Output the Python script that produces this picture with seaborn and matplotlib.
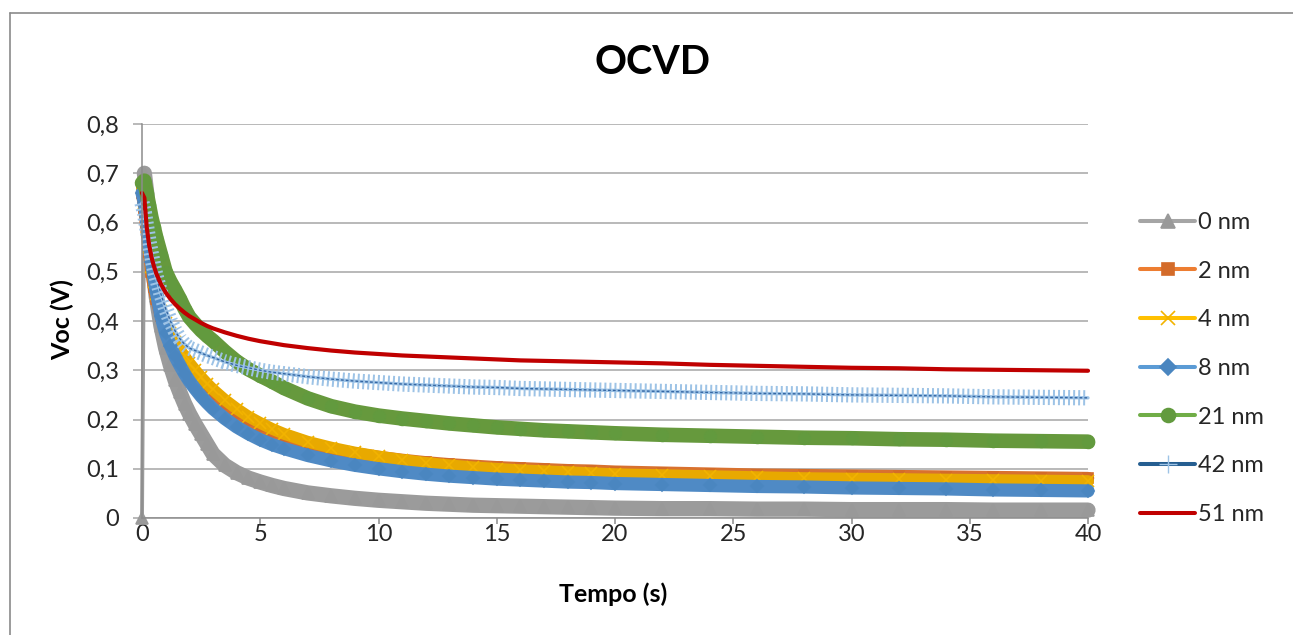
import numpy as np
import pandas as pd
import matplotlib
matplotlib.use("Agg")
import matplotlib.pyplot as plt
from matplotlib.lines import Line2D
import seaborn as sns

# Open-circuit voltage decay: time (s) and Voc (V) for each layer thickness
tempo = [0, 0.1, 0.2, 0.3, 0.4, 0.5, 0.6, 0.8,
         1.0, 1.2, 1.4, 1.6, 1.8, 2.0,
         2.25, 2.5, 2.75, 3.0,
         3.5, 4.0, 4.5, 5,
         5.5, 6,
         7, 8, 9, 10,
         11, 12, 13, 14, 15, 16, 17, 18, 19, 20,
         22, 24, 26, 28, 30,
         32, 34, 36, 38, 40]

voc_0nm = [0.0, 0.70, 0.66, 0.60, 0.54, 0.49, 0.45, 0.39,
           0.345, 0.31, 0.28, 0.255, 0.232, 0.212,
           0.19, 0.17, 0.15, 0.13,
           0.107, 0.092, 0.081, 0.073,
           0.066, 0.060,
           0.051, 0.045, 0.040, 0.036,
           0.033, 0.030, 0.028, 0.026, 0.025, 0.024, 0.023, 0.022, 0.021, 0.020,
           0.019, 0.019, 0.018, 0.018, 0.017,
           0.017, 0.017, 0.016, 0.016, 0.016]

voc_2nm = [0.66, 0.63, 0.58, 0.54, 0.50, 0.47, 0.445, 0.41,
           0.385, 0.365, 0.348, 0.333, 0.319, 0.306,
           0.291, 0.277, 0.264, 0.252,
           0.232, 0.214, 0.199, 0.186,
           0.175, 0.166,
           0.151, 0.140, 0.131, 0.124,
           0.118, 0.113, 0.109, 0.106, 0.103, 0.101, 0.099, 0.097, 0.096, 0.094,
           0.092, 0.090, 0.088, 0.087, 0.086,
           0.085, 0.084, 0.083, 0.082, 0.081]

voc_4nm = [0.67, 0.64, 0.59, 0.55, 0.51, 0.48, 0.455, 0.42,
           0.395, 0.375, 0.357, 0.342, 0.328, 0.315,
           0.300, 0.286, 0.273, 0.261,
           0.240, 0.222, 0.206, 0.193,
           0.181, 0.171,
           0.155, 0.143, 0.133, 0.125,
           0.118, 0.112, 0.107, 0.103, 0.100, 0.097, 0.095, 0.093, 0.091, 0.089,
           0.087, 0.085, 0.083, 0.081, 0.080,
           0.079, 0.078, 0.077, 0.076, 0.075]

voc_8nm = [0.66, 0.64, 0.60, 0.56, 0.52, 0.49, 0.46, 0.41,
           0.375, 0.35, 0.328, 0.31, 0.293, 0.278,
           0.262, 0.247, 0.234, 0.222,
           0.202, 0.185, 0.171, 0.159,
           0.149, 0.141,
           0.127, 0.116, 0.107, 0.100,
           0.094, 0.089, 0.085, 0.082, 0.079, 0.077, 0.075, 0.073, 0.072, 0.070,
           0.068, 0.066, 0.064, 0.063, 0.061,
           0.060, 0.059, 0.057, 0.056, 0.055]

voc_21nm = [0.68, 0.685, 0.66, 0.635, 0.61, 0.59, 0.57, 0.535,
            0.50, 0.48, 0.463, 0.445, 0.425, 0.408,
            0.394, 0.381, 0.37, 0.36,
            0.338, 0.318, 0.302, 0.289,
            0.277, 0.264,
            0.243, 0.227, 0.216, 0.208,
            0.202, 0.197, 0.192, 0.188, 0.184, 0.181, 0.178, 0.176, 0.174, 0.172,
            0.169, 0.167, 0.165, 0.163, 0.162,
            0.160, 0.159, 0.157, 0.156, 0.155]

voc_42nm = [0.64, 0.62, 0.59, 0.56, 0.535, 0.51, 0.49, 0.455,
            0.425, 0.40, 0.38, 0.364, 0.353, 0.345,
            0.34, 0.335, 0.33, 0.326,
            0.317, 0.31, 0.305, 0.30,
            0.296, 0.293,
            0.287, 0.282, 0.278, 0.275,
            0.272, 0.27, 0.268, 0.266, 0.265, 0.263, 0.262, 0.261, 0.26, 0.259,
            0.257, 0.255, 0.253, 0.252, 0.25,
            0.249, 0.248, 0.246, 0.245, 0.244]

voc_51nm = [0.66, 0.65, 0.59, 0.555, 0.53, 0.512, 0.497, 0.475,
            0.458, 0.445, 0.434, 0.425, 0.417, 0.41,
            0.403, 0.396, 0.39, 0.385,
            0.377, 0.37, 0.364, 0.359,
            0.355, 0.351,
            0.345, 0.34, 0.336, 0.333,
            0.33, 0.328, 0.326, 0.324, 0.322, 0.32, 0.319, 0.318, 0.317, 0.316,
            0.314, 0.311, 0.309, 0.307, 0.305,
            0.304, 0.302, 0.301, 0.30, 0.299]

labels = ["0 nm", "2 nm", "4 nm", "8 nm", "21 nm", "42 nm", "51 nm"]
series = [voc_0nm, voc_2nm, voc_4nm, voc_8nm, voc_21nm, voc_42nm, voc_51nm]

x_ticks = [0, 5, 10, 15, 20, 25, 30, 35, 40]
y_ticks = [0, 0.1, 0.2, 0.3, 0.4, 0.5, 0.6, 0.7, 0.8]
y_tick_labels = ["0", "0,1", "0,2", "0,3", "0,4", "0,5", "0,6", "0,7", "0,8"]

# per-series styling: band colour, legend line colour, marker, marker colour
styles = {
    "0 nm":  dict(band="#9B9B9B", line="#A5A5A5", marker="^", mc="#999999", ms=9,   bw=11.0),
    "2 nm":  dict(band="#D8712F", line="#ED7D31", marker="s", mc="#D36B2A", ms=7,   bw=9.0),
    "4 nm":  dict(band="#E8A900", line="#FFC000", marker="x", mc="#F2B300", ms=8.5, bw=8.5),
    "8 nm":  dict(band="#4F8AC5", line="#5B9BD5", marker="D", mc="#4A86C0", ms=6.5, bw=9.5),
    "21 nm": dict(band="#66993D", line="#70AD47", marker="o", mc="#629A3E", ms=8.5, bw=10.5),
    "42 nm": dict(band="#9DC3E6", line="#255E91", marker="+", mc="#9DC3E6", ms=10,  bw=11.0),
    "51 nm": dict(band=None,      line="#C00000", marker=None, mc=None,     ms=0,   bw=0),
}

sns.set_theme(style="white")
plt.rcParams["font.family"] = ["Lato", "DejaVu Sans"]

W, H = 1293, 635
fig = plt.figure(figsize=(W / 100, H / 100), dpi=100)
fig.patch.set_facecolor("white")
ax = fig.add_axes([142 / W, (H - 518) / H, (1088 - 142) / W, (518 - 124) / H])

for name, vals in zip(labels, series):
    st = styles[name]
    df = pd.DataFrame({"Tempo": tempo, "Voc": vals})
    if name == "51 nm":
        sns.lineplot(data=df, x="Tempo", y="Voc", ax=ax, color=st["line"], lw=3.0,
                     estimator=None, sort=False, legend=False,
                     solid_joinstyle="round", solid_capstyle="round", clip_on=False)
        continue
    # the 0 nm trace rises from zero before the decay; its thick band covers the decay only
    band_df = df.iloc[1:] if name == "0 nm" else df
    if name == "42 nm":
        sns.lineplot(data=band_df, x="Tempo", y="Voc", ax=ax, color=st["band"], lw=st["bw"],
                     linestyle=(0, (0.13, 0.2)), estimator=None, sort=False, legend=False,
                     clip_on=False)
        sns.lineplot(data=df, x="Tempo", y="Voc", ax=ax, color=st["band"], lw=2.4,
                     estimator=None, sort=False, legend=False, clip_on=False)
        sns.lineplot(data=df, x="Tempo", y="Voc", ax=ax, color="#3466A3", lw=1.0,
                     linestyle=(0, (2, 1.5)), estimator=None, sort=False, legend=False,
                     clip_on=False)
        continue
    sns.lineplot(data=band_df, x="Tempo", y="Voc", ax=ax, color=st["band"], lw=st["bw"],
                 estimator=None, sort=False, legend=False,
                 solid_joinstyle="round", solid_capstyle="round", clip_on=False)
    sns.lineplot(data=df, x="Tempo", y="Voc", ax=ax, color=st["band"], lw=2.8,
                 marker=st["marker"], markersize=st["ms"], markerfacecolor=st["mc"],
                 markeredgecolor=st["mc"], markeredgewidth=1.2,
                 estimator=None, sort=False, legend=False, clip_on=False)

ax.set_xlim(0, 40)
ax.set_ylim(0, 0.8)
ax.set_xticks(x_ticks)
ax.set_xticklabels([str(v) for v in x_ticks])
ax.set_yticks(y_ticks)
ax.set_yticklabels(y_tick_labels)
ax.set_xlabel("")
ax.set_ylabel("")

ax.set_axisbelow(True)
ax.yaxis.grid(True, color="#A6A6A6", lw=1.1)
ax.xaxis.grid(False)
for side in ("top", "right"):
    ax.spines[side].set_visible(False)
for side in ("left", "bottom"):
    ax.spines[side].set_color("#8C8C8C")
    ax.spines[side].set_linewidth(1.1)
ax.tick_params(axis="y", which="major", left=True, length=6.5, width=1.1,
               color="#A6A6A6", pad=10, labelsize=17, labelcolor="#262626")
ax.tick_params(axis="x", which="major", bottom=True, length=4, width=1.1,
               color="#8C8C8C", pad=0.5, labelsize=17, labelcolor="#262626")

# legend
handles = []
for name in labels:
    st = styles[name]
    if st["marker"] is None:
        h = Line2D([], [], color=st["line"], lw=2.9)
    elif name == "42 nm":
        h = Line2D([], [], color=st["line"], lw=2.9, marker="+", markersize=13,
                   markeredgecolor=st["mc"], markeredgewidth=1.0)
    else:
        h = Line2D([], [], color=st["line"], lw=2.9, marker=st["marker"],
                   markersize=st["ms"] + 1.5, markerfacecolor=st["mc"],
                   markeredgecolor=st["mc"], markeredgewidth=1.2)
    handles.append(h)
ax.legend(handles, labels, loc="center left", bbox_to_anchor=(1140 / W, 1 - 368.5 / H),
          bbox_transform=fig.transFigure, frameon=False, fontsize=17,
          handlelength=2.35, handletextpad=0.12, labelspacing=1.17,
          borderpad=0, borderaxespad=0, labelcolor="#262626")

fig.text(652 / W, 1 - 63 / H, "OCVD", ha="center", va="center",
         fontsize=28.5, fontweight="bold", color="black")
fig.text(613 / W, 1 - 594 / H, "Tempo (s)", ha="center", va="center",
         fontsize=18, fontweight="bold", color="black")
fig.text(62 / W, 1 - 320 / H, "Voc (V)", ha="center", va="center", rotation=90,
         fontsize=18, fontweight="bold", color="black")

# chart frame
fig.add_artist(Line2D([10 / W, 10 / W], [0, 1 - 12.5 / H], transform=fig.transFigure,
                      color="#8A8A8A", lw=1.2))
fig.add_artist(Line2D([10 / W, 1], [1 - 12.5 / H, 1 - 12.5 / H], transform=fig.transFigure,
                      color="#8A8A8A", lw=1.2))

fig.savefig("out.png", dpi=100, facecolor="white")
